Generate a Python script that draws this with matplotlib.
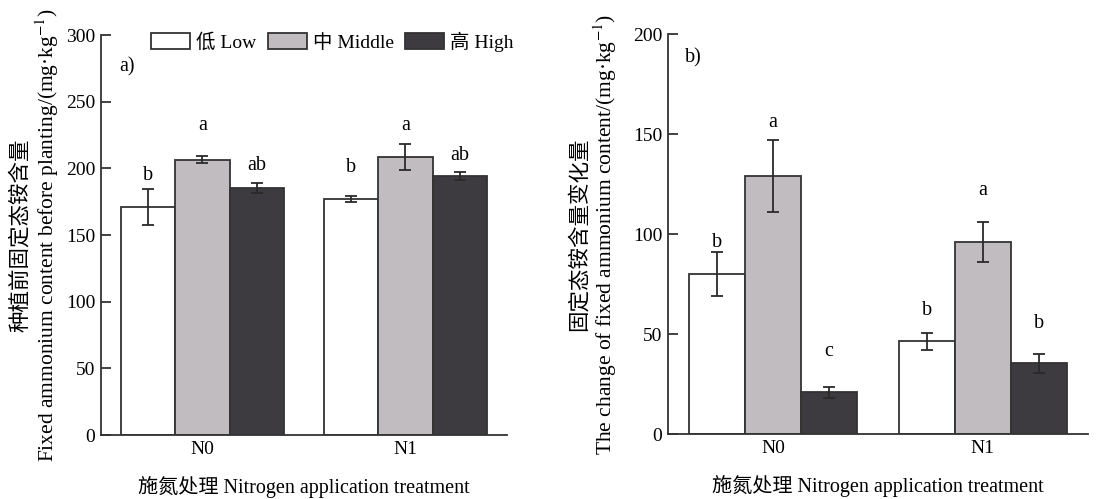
import matplotlib
matplotlib.use("Agg")
import matplotlib.pyplot as plt
import numpy as np

plt.rcParams['font.family'] = ['Liberation Serif', 'Noto Sans CJK SC']
plt.rcParams['mathtext.fontset'] = 'stix'
plt.rcParams['font.size'] = 14

groups = ['N0', 'N1']
levels = ['低 Low', '中 Middle', '高 High']
colors = ['#ffffff', '#c0bcc0', '#3e3b40']

# panel a: fixed ammonium before planting
a_mean = [[171, 177], [206.5, 208.5], [185.5, 194]]
a_err = [[13.5, 2.5], [2.5, 10], [3.7, 3]]
a_letters = [['b', 'b'], ['a', 'a'], ['ab', 'ab']]
a_letter_y = [[195, 201], [232.5, 232.5], [202.5, 210]]

# panel b: change of fixed ammonium
b_mean = [[80, 46.5], [129, 96], [21, 35.5]]
b_err = [[11, 4.3], [18, 10], [2.7, 4.8]]
b_letters = [['b', 'b'], ['a', 'a'], ['c', 'b']]
b_letter_y = [[96, 62], [155.7, 121.8], [41.3, 55.5]]

edge = '#333333'
width = 0.8 / 3
x = np.arange(len(groups))

fig = plt.figure(figsize=(10.99, 4.99), dpi=100)
ax1 = fig.add_axes([0.0919, 0.128, 0.3694, 0.8016])
ax2 = fig.add_axes([0.6078, 0.1297, 0.382, 0.8016])


def draw(ax, mean, err, letters, letter_y, ymax, step):
    for i in range(3):
        pos = x + (i - 1) * width
        ax.bar(pos, mean[i], width, color=colors[i], edgecolor=edge,
               linewidth=1.3, label=levels[i], zorder=2)
        ax.errorbar(pos, mean[i], yerr=err[i], fmt='none', ecolor='#2a2a2a',
                    elinewidth=1.3, capsize=4, capthick=1.3, zorder=3)
        for p, t, ly in zip(pos, letters[i], letter_y[i]):
            ax.text(p, ly, t, ha='center', va='center', fontsize=14.5)
    ax.set_xlim(-0.5, 1.5)
    ax.set_ylim(0, ymax)
    ax.set_yticks(np.arange(0, ymax + 1, step))
    ax.set_xticks(x)
    ax.set_xticklabels(groups)
    for s in ['top', 'right']:
        ax.spines[s].set_visible(False)
    for s in ['left', 'bottom']:
        ax.spines[s].set_linewidth(1.3)
        ax.spines[s].set_color('#333333')
    ax.tick_params(direction='in', length=7.5, width=1.3, labelsize=14,
                   color='#333333', pad=4)
    ax.set_xlabel('施氮处理 Nitrogen application treatment', fontsize=14.5,
                  labelpad=13)


draw(ax1, a_mean, a_err, a_letters, a_letter_y, 300, 50)
draw(ax2, b_mean, b_err, b_letters, b_letter_y, 200, 50)

ax1.set_ylabel('种植前固定态铵含量\nFixed ammonium content before planting/(mg·kg$^{-1}$)',
               fontsize=15.5, labelpad=4, linespacing=1.1)
ax2.set_ylabel('固定态铵含量变化量\nThe change of fixed ammonium content/(mg·kg$^{-1}$)',
               fontsize=15.5, labelpad=10, linespacing=1.1)

ax1.text(0.045, 0.92, 'a)', transform=ax1.transAxes, fontsize=14.5, va='center')
ax2.text(0.04, 0.94, 'b)', transform=ax2.transAxes, fontsize=14.5, va='center')

ax1.legend(loc='center', bbox_to_anchor=(0.57, 0.983), ncol=3, frameon=False,
           handlelength=2.0, handleheight=0.9, handletextpad=0.3,
           columnspacing=0.6, fontsize=14, borderpad=0)

fig.savefig('out.png', dpi=100)
